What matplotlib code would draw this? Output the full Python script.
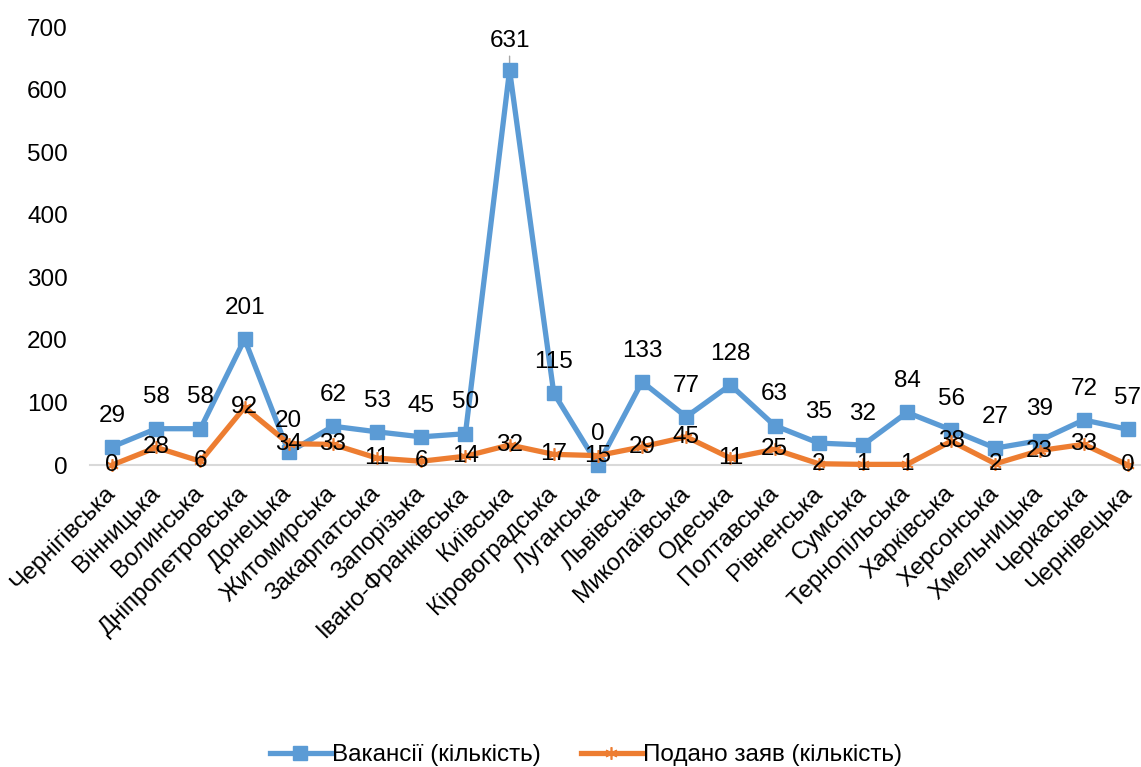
import matplotlib
matplotlib.use("Agg")
import matplotlib.pyplot as plt

plt.rcParams['font.family'] = ['Liberation Sans', 'DejaVu Sans']

regions = ["Чернігівська", "Вінницька", "Волинська", "Дніпропетровська", "Донецька",
           "Житомирська", "Закарпатська", "Запорізька", "Івано-Франківська", "Київська",
           "Кіровоградська", "Луганська", "Львівська", "Миколаївська", "Одеська",
           "Полтавська", "Рівненська", "Сумська", "Тернопільська", "Харківська",
           "Херсонська", "Хмельницька", "Черкаська", "Чернівецька"]
vacancies = [29, 58, 58, 201, 20, 62, 53, 45, 50, 631, 115, 0, 133, 77, 128,
             63, 35, 32, 84, 56, 27, 39, 72, 57]
applications = [0, 28, 6, 92, 34, 33, 11, 6, 14, 32, 17, 15, 29, 45, 11,
                25, 2, 1, 1, 38, 2, 23, 33, 0]
yticks = [0, 100, 200, 300, 400, 500, 600, 700]

blue = "#5B9BD5"
orange = "#ED7D31"
fs = 17.5

fig = plt.figure(figsize=(11.41, 7.67), dpi=100)
ax = fig.add_axes([90 / 1141, 1 - 465 / 767, 1060 / 1141, (465 - 27) / 767])

x = list(range(len(regions)))
ax.plot(x, vacancies, color=blue, lw=3.8, marker='s', ms=10.5, clip_on=False,
        zorder=3, label="Вакансії (кількість)")
ax.plot(x, applications, color=orange, lw=3.8, marker=(6, 2, 0), ms=9,
        mew=1.2, mec=orange, clip_on=False, zorder=4, label="Подано заяв (кількість)")

peak = max(vacancies)
for xi, v in zip(x, vacancies):
    if v == peak:
        # the tallest value gets a thin leader line down to its marker
        ax.annotate(str(v), (xi, v), xytext=(0, 21), textcoords='offset points',
                    ha='center', va='center', fontsize=fs, color='black', zorder=2,
                    arrowprops=dict(arrowstyle='-', color='#A6A6A6', lw=1,
                                    shrinkA=1, shrinkB=0))
    else:
        ax.annotate(str(v), (xi, v), xytext=(0, 22.5), textcoords='offset points',
                    ha='center', va='center', fontsize=fs, color='black', zorder=6)
for xi, v in zip(x, applications):
    ax.annotate(str(v), (xi, v), xytext=(0, 0), textcoords='offset points',
                ha='center', va='center', fontsize=fs, color='black', zorder=6)

ax.set_xlim(-0.5, len(regions) - 0.5)
ax.set_ylim(0, 700)
ax.set_yticks(yticks)
ax.set_yticklabels([str(t) for t in yticks], fontsize=fs)
ax.set_xticks(x)
ax.set_xticklabels(regions, rotation=45, ha='right', va='center',
                   rotation_mode='anchor', fontsize=fs)
ax.tick_params(axis='y', length=0, pad=16)
ax.tick_params(axis='x', length=0, pad=18)
for side in ('top', 'right', 'left'):
    ax.spines[side].set_visible(False)
ax.spines['bottom'].set_color('#D9D9D9')
ax.spines['bottom'].set_linewidth(1.5)
ax.spines['bottom'].set_zorder(1)

fig.legend(loc='center', bbox_to_anchor=(586 / 1141, 1 - 755 / 767), ncol=2,
           frameon=False, fontsize=fs, handlelength=2.5, columnspacing=1.65,
           handletextpad=0.05, borderpad=0.2)

fig.savefig("out.png", dpi=100)
